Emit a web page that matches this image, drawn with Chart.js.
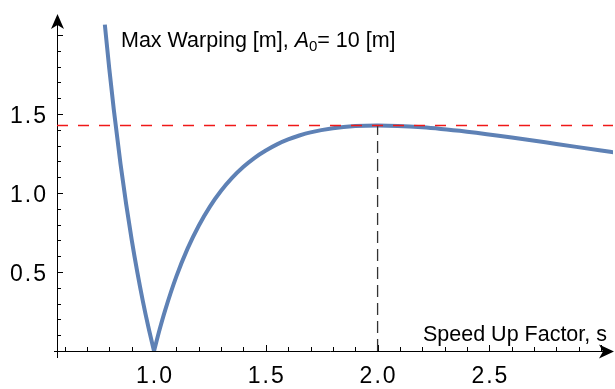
<!DOCTYPE html>
<html>
<head>
<meta charset="utf-8">
<script src="https://cdn.jsdelivr.net/npm/chart.js@4.4.1/dist/chart.umd.min.js"></script>
<style>
  html, body { margin: 0; padding: 0; background: #fff; }
  #wrap { width: 615px; height: 389px; }
</style>
</head>
<body>
<div id="wrap"><canvas id="warpChart" width="615" height="389"></canvas></div>
<script>
// values
const speedUp = [0.78, 0.80, 0.82, 0.85, 0.875, 0.90, 0.925, 0.95, 0.975, 1.00,
  1.025, 1.05, 1.10, 1.15, 1.20, 1.25, 1.30, 1.35, 1.40, 1.45, 1.50, 1.55, 1.60,
  1.65, 1.70, 1.80, 1.90, 2.00, 2.20, 2.40, 2.60, 2.80, 3.00, 3.06];
const warping = [2.066, 1.785, 1.529, 1.186, 0.933, 0.705, 0.501, 0.316, 0.150, 0.000,
  0.136, 0.259, 0.472, 0.648, 0.793, 0.914, 1.014, 1.097, 1.166, 1.223, 1.269, 1.308, 1.339,
  1.364, 1.384, 1.410, 1.424, 1.428, 1.416, 1.388, 1.352, 1.311, 1.269, 1.257];
const peakS = 2.0;
const peakW = 1.428;
const xTicks = [1.0, 1.5, 2.0, 2.5];
const yTicks = [0.5, 1.0, 1.5];
const xRange = [0.566, 3.053];
const yRange = [0, 2.127];

const FONT = '"Liberation Sans", Arial, sans-serif';
const BLUE = 'rgb(94,129,181)';

// split the curve at the zero so the V keeps its sharp tip
const zi = warping.indexOf(0);
const pts = speedUp.map((s, i) => ({ x: s, y: warping[i] }));
const leftBranch = pts.slice(0, zi + 1);
const rightBranch = pts.slice(zi);

const axesPlugin = {
  id: 'mmaAxes',
  beforeDatasetsDraw(chart) {
    const { ctx, scales: { x, y } } = chart;
    const x0 = x.getPixelForValue(xRange[0]);
    const y0 = y.getPixelForValue(0);
    const xEnd = x.getPixelForValue(xRange[1]);
    const yEnd = y.getPixelForValue(yRange[1]);
    ctx.save();
    ctx.strokeStyle = '#000';
    ctx.fillStyle = '#000';
    ctx.lineWidth = 1;
    // axis lines
    ctx.beginPath();
    ctx.moveTo(x0 - 3, y0 + 0.5); ctx.lineTo(xEnd - 6, y0 + 0.5);
    ctx.moveTo(x0 + 0.5, y0 + 7); ctx.lineTo(x0 + 0.5, yEnd + 6);
    ctx.stroke();
    // arrow heads
    ctx.beginPath();
    ctx.moveTo(xEnd + 1, y0 + 0.5);
    ctx.lineTo(xEnd - 14, y0 - 6.5);
    ctx.lineTo(xEnd - 10, y0 + 0.5);
    ctx.lineTo(xEnd - 14, y0 + 7.5);
    ctx.closePath();
    ctx.fill();
    ctx.beginPath();
    ctx.moveTo(x0 + 0.5, yEnd - 1);
    ctx.lineTo(x0 - 6, yEnd + 14);
    ctx.lineTo(x0 + 0.5, yEnd + 10);
    ctx.lineTo(x0 + 7, yEnd + 14);
    ctx.closePath();
    ctx.fill();
    // ticks, major every 0.5 and minor every 0.1
    ctx.beginPath();
    for (let k = 6; k <= 30; k++) {
      const px = Math.round(x.getPixelForValue(k / 10)) + 0.5;
      const len = k % 5 === 0 ? 6 : 4;
      ctx.moveTo(px, y0); ctx.lineTo(px, y0 - len);
    }
    for (let k = 1; k <= 20; k++) {
      const py = Math.round(y.getPixelForValue(k / 10)) + 0.5;
      const len = k % 5 === 0 ? 6 : 4;
      ctx.moveTo(x0, py); ctx.lineTo(x0 + len, py);
    }
    ctx.stroke();
    // tick labels
    ctx.font = '23px ' + FONT;
    ctx.letterSpacing = '2px';
    ctx.textBaseline = 'alphabetic';
    ctx.textAlign = 'center';
    xTicks.forEach(v => ctx.fillText(v.toFixed(1), x.getPixelForValue(v) + 1, y0 + 32));
    ctx.textAlign = 'right';
    yTicks.forEach(v => ctx.fillText(v.toFixed(1), x0 - 9, y.getPixelForValue(v) + 8.5));
    ctx.letterSpacing = '0px';
    ctx.restore();
  },
  afterDraw(chart) {
    const { ctx } = chart;
    ctx.save();
    ctx.fillStyle = '#000';
    ctx.textBaseline = 'alphabetic';
    ctx.textAlign = 'left';
    let tx = 121;
    const by = 47;
    ctx.font = '21.5px ' + FONT;
    const a = 'Max Warping [m], ';
    ctx.fillText(a, tx, by); tx += ctx.measureText(a).width;
    ctx.font = 'italic 21.5px ' + FONT;
    ctx.fillText('A', tx, by); tx += ctx.measureText('A').width;
    ctx.font = '15px ' + FONT;
    ctx.fillText('0', tx, by + 4); tx += ctx.measureText('0').width;
    ctx.font = '21.5px ' + FONT;
    ctx.fillText('= 10 [m]', tx, by);
    ctx.textAlign = 'right';
    ctx.fillText('Speed Up Factor, s', 607, 341);
    ctx.restore();
  }
};

new Chart(document.getElementById('warpChart'), {
  type: 'scatter',
  data: {
    datasets: [
      {
        label: 'peak level',
        data: [{ x: xRange[0], y: peakW }, { x: xRange[1], y: peakW }],
        showLine: true, borderColor: '#f01818', borderWidth: 1.5,
        borderDash: [11, 10], pointRadius: 0,
      },
      {
        label: 'peak s',
        data: [{ x: peakS, y: 0 }, { x: peakS, y: peakW }],
        showLine: true, borderColor: '#333', borderWidth: 1.3,
        borderDash: [12, 6], pointRadius: 0,
      },
      {
        label: 'warping left',
        data: leftBranch,
        showLine: true, borderColor: BLUE, borderWidth: 4,
        cubicInterpolationMode: 'monotone', pointRadius: 0,
      },
      {
        label: 'warping right',
        data: rightBranch,
        showLine: true, borderColor: BLUE, borderWidth: 4,
        cubicInterpolationMode: 'monotone', pointRadius: 0,
      },
    ]
  },
  options: {
    responsive: false,
    animation: false,
    layout: { padding: { left: 57, right: 2, top: 15, bottom: 38 } },
    plugins: { legend: { display: false }, tooltip: { enabled: false } },
    scales: {
      x: { type: 'linear', display: false, min: xRange[0], max: xRange[1] },
      y: { type: 'linear', display: false, min: yRange[0], max: yRange[1] },
    }
  },
  plugins: [axesPlugin]
});
</script>
</body>
</html>
